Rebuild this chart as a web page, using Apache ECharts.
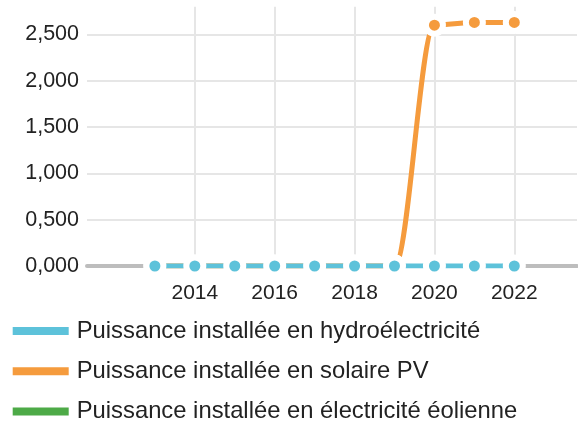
<!DOCTYPE html>
<html>
<head>
<meta charset="utf-8">
<script src="https://cdn.jsdelivr.net/npm/echarts@6/dist/echarts.min.js"></script>
<style>html,body{margin:0;padding:0;background:#fff}#c{width:578px;height:421px}</style>
</head>
<body>
<div id="c"></div>
<script>
const years = [2013, 2014, 2015, 2016, 2017, 2018, 2019, 2020, 2021, 2022];
const hydro = [0, 0, 0, 0, 0, 0, 0, 0, 0, 0];
const solar = [0, 0, 0, 0, 0, 0, 0, 2.6, 2.63, 2.63];
const wind = [null, null, null, null, null, null, null, null, null, null];
const xTicks = [2014, 2016, 2018, 2020, 2022];
const yTicks = [0, 0.5, 1, 1.5, 2, 2.5];
const names = ['Puissance installée en hydroélectricité', 'Puissance installée en solaire PV', 'Puissance installée en électricité éolienne'];

const pairs = arr => years.map((y, i) => [y, arr[i]]);
const FONT = '"Liberation Sans", Arial, sans-serif';

const chart = echarts.init(document.getElementById('c'), null, {renderer: 'canvas'});
chart.setOption({
  animation: false,
  backgroundColor: '#fff',
  textStyle: {fontFamily: FONT},
  grid: {left: 87, right: 1, top: 6.7, bottom: 155, containLabel: false},
  xAxis: {
    type: 'value', min: 2011.3, max: 2023.57,
    axisLine: {show: true, lineStyle: {color: '#bdbdbd', width: 4}},
    axisTick: {show: false, customValues: xTicks},
    axisLabel: {customValues: xTicks, color: '#222', fontSize: 21, fontFamily: FONT, margin: 16.5, formatter: v => String(v)},
    splitLine: {show: true, lineStyle: {color: '#e6e6e6', width: 2}}
  },
  yAxis: {
    type: 'value', min: 0, max: 2.8,
    axisLine: {show: false},
    axisTick: {show: false, customValues: yTicks},
    axisLabel: {customValues: yTicks, color: '#222', fontSize: 21.5, fontFamily: FONT, margin: 8,
      formatter: v => v.toFixed(3).replace('.', ',')},
    splitLine: {show: true, lineStyle: {color: '#e6e6e6', width: 2}}
  },
  legend: {
    orient: 'vertical', left: 12.7, top: 319.1, height: 110, padding: 0,
    itemWidth: 56, itemHeight: 8, itemGap: 16.2,
    icon: 'rect', itemStyle: {borderWidth: 0},
    textStyle: {color: '#222', fontSize: 23.8, fontFamily: FONT, padding: [0, 0, 0, 3]},
    data: names
  },
  series: [
    {
      name: names[0], type: 'line', data: pairs(hydro), z: 4, color: '#5DC2DA',
      symbol: 'circle', symbolSize: 17,
      itemStyle: {color: '#5DC2DA', borderColor: '#fff', borderWidth: 6},
      lineStyle: {width: 5, color: '#5DC2DA'}
    },
    {
      name: names[1], type: 'line', data: pairs(solar), z: 3, color: '#F59B3D',
      smooth: 0.35, smoothMonotone: 'x',
      symbol: 'circle', symbolSize: 17,
      itemStyle: {color: '#F59B3D', borderColor: '#fff', borderWidth: 6},
      lineStyle: {width: 5, color: '#F59B3D'}
    },
    {
      name: names[2], type: 'line', data: pairs(wind), z: 2, color: '#4DAA47',
      symbol: 'circle', symbolSize: 17,
      itemStyle: {color: '#4DAA47', borderColor: '#fff', borderWidth: 6},
      lineStyle: {width: 5, color: '#4DAA47'}
    }
  ]
});
</script>
</body>
</html>
